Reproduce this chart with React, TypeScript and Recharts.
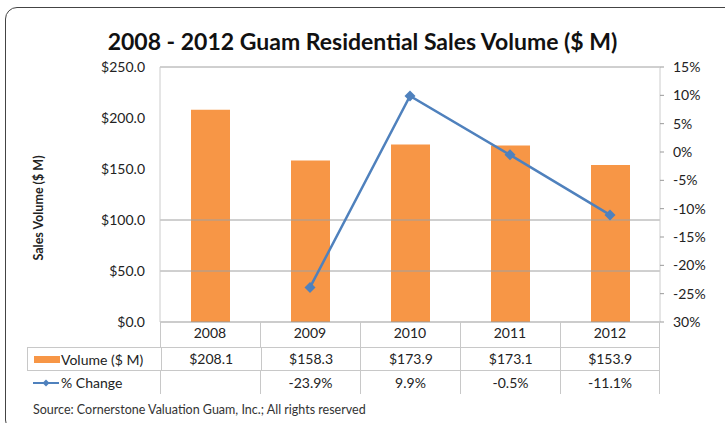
import { Bar, ComposedChart, Line, ReferenceLine, XAxis, YAxis } from 'recharts'

const YEARS = ['2008', '2009', '2010', '2011', '2012']
const VOLUME = [208.1, 158.3, 173.9, 173.1, 153.9]
const CHANGE: (number | null)[] = [null, -23.9, 9.9, -0.5, -11.1]
const VOLUME_LABELS = ['$208.1', '$158.3', '$173.9', '$173.1', '$153.9']
const CHANGE_LABELS = ['', '-23.9%', '9.9%', '-0.5%', '-11.1%']
const LEFT_TICKS = [0, 50, 100, 150, 200, 250]
const RIGHT_TICKS = [15, 10, 5, 0, -5, -10, -15, -20, -25, -30]
const RIGHT_TICK_LABELS = ['15%', '10%', '5%', '0%', '-5%', '-10%', '-15%', '-20%', '-25%', '30%']
const GRID_VALUES = [50, 100, 250]

const ORANGE = '#F79646'
const BLUE = '#4F81BD'
const FONT = 'Lato, "Open Sans", sans-serif'

const chartData = YEARS.map((year, i) => ({
  year,
  volume: VOLUME[i],
  change: CHANGE[i],
}))

function Diamond(props: any) {
  const { cx, cy, index } = props
  if (cx == null || cy == null || CHANGE[index] == null) return <g key={index} />
  const r = 5.5
  return (
    <polygon
      key={index}
      points={`${cx},${cy - r} ${cx + r},${cy} ${cx},${cy + r} ${cx - r},${cy}`}
      fill={BLUE}
    />
  )
}

const cellBorder = '1px solid #c8c8c8'

export default function App() {
  return (
    <div style={{ position: 'absolute', left: 0, top: 0, width: 725, height: 423, overflow: 'hidden', background: '#fff', fontFamily: FONT }}>
      <div
        style={{
          position: 'absolute',
          left: 5,
          top: 7,
          width: 740,
          height: 425,
          border: '1.5px solid #444',
          borderRadius: 12,
          boxSizing: 'border-box',
        }}
      />
      <div
        style={{
          position: 'absolute',
          left: 0,
          top: 27,
          width: 725,
          textAlign: 'center',
          fontSize: 23,
          fontWeight: 700,
          color: '#111',
        }}
      >
        2008 - 2012 Guam Residential Sales Volume ($ M)
      </div>

      <div
        style={{
          position: 'absolute',
          left: 38,
          top: 208,
          transform: 'translate(-50%, -50%) rotate(-90deg)',
          fontSize: 12.5,
          fontWeight: 700,
          color: '#222',
          whiteSpace: 'nowrap',
        }}
      >
        Sales Volume ($ M)
      </div>

      <div style={{ position: 'absolute', left: 0, top: 0 }}>
        <ComposedChart
          width={725}
          height={423}
          data={chartData}
          margin={{ top: 67, right: 0, bottom: 76, left: 0 }}
        >
          <XAxis
            dataKey="year"
            xAxisId="x"
            height={25}
            tickLine={false}
            tickSize={0}
            tickMargin={6}
            axisLine={{ stroke: '#999' }}
            tick={{ fill: '#222', fontSize: 14, fontFamily: FONT }}
          />
          <YAxis
            yAxisId="left"
            width={160}
            domain={[0, 250]}
            ticks={LEFT_TICKS}
            tickLine={false}
            tickSize={0}
            tickMargin={15}
            axisLine={{ stroke: '#ccc' }}
            tick={{ fill: '#222', fontSize: 14, fontFamily: FONT }}
            tickFormatter={(v: number) => `$${v.toFixed(1)}`}
          />
          <YAxis
            yAxisId="right"
            orientation="right"
            width={65}
            domain={[-30, 15]}
            ticks={RIGHT_TICKS}
            tickSize={4}
            tickMargin={9}
            tickLine={{ stroke: '#999' }}
            axisLine={{ stroke: '#ccc' }}
            tick={{ fill: '#222', fontSize: 14, fontFamily: FONT }}
            tickFormatter={(v: number) => RIGHT_TICK_LABELS[RIGHT_TICKS.indexOf(v)]}
          />
          {GRID_VALUES.map((v) => (
            <ReferenceLine key={v} y={v} yAxisId="left" xAxisId="x" stroke="#a0a0a0" strokeWidth={1} />
          ))}
          <Bar dataKey="volume" xAxisId="x" yAxisId="left" fill={ORANGE} barSize={39} isAnimationActive={false} />
          <Line
            dataKey="change"
            xAxisId="x"
            yAxisId="right"
            stroke={BLUE}
            strokeWidth={2.5}
            dot={Diamond}
            activeDot={false}
            isAnimationActive={false}
          />
        </ComposedChart>
      </div>

      {/* data table below the category axis */}
      <div style={{ position: 'absolute', left: 160, top: 322, width: 500, height: 25, display: 'flex' }}>
        {YEARS.map((y) => (
          <div key={y} style={{ width: 100, borderLeft: cellBorder, boxSizing: 'border-box', height: 25, borderRight: y === '2012' ? cellBorder : undefined }} />
        ))}
      </div>
      <div style={{ position: 'absolute', left: 27, top: 347, width: 633, fontSize: 14, color: '#222' }}>
        <div style={{ display: 'flex', height: 22, borderTop: cellBorder, borderLeft: cellBorder }}>
          <div style={{ width: 133, display: 'flex', alignItems: 'center', boxSizing: 'border-box' }}>
            <span style={{ display: 'inline-block', width: 26, height: 7, background: ORANGE, marginLeft: 6, marginRight: 1 }} />
            Volume ($ M)
          </div>
          {VOLUME_LABELS.map((t, i) => (
            <div key={i} style={{ width: 100, borderLeft: cellBorder, borderRight: i === 4 ? cellBorder : undefined, boxSizing: 'border-box', textAlign: 'center', lineHeight: '22px' }}>
              {t}
            </div>
          ))}
        </div>
        <div style={{ display: 'flex', height: 23, borderTop: cellBorder }}>
          <div style={{ width: 133, display: 'flex', alignItems: 'center', boxSizing: 'border-box' }}>
            <svg width={27} height={12} style={{ marginLeft: 6, marginRight: 1 }}>
              <line x1={0} y1={6} x2={26} y2={6} stroke={BLUE} strokeWidth={2} />
              <polygon points="13,2.5 16.5,6 13,9.5 9.5,6" fill={BLUE} />
            </svg>
            % Change
          </div>
          {CHANGE_LABELS.map((t, i) => (
            <div key={i} style={{ width: 100, borderLeft: cellBorder, borderRight: i === 4 ? cellBorder : undefined, boxSizing: 'border-box', textAlign: 'center', lineHeight: '23px' }}>
              {t}
            </div>
          ))}
        </div>
      </div>

      <div style={{ position: 'absolute', left: 33, top: 402, fontSize: 12.5, color: '#333' }}>
        Source: Cornerstone Valuation Guam, Inc.; All rights reserved
      </div>
    </div>
  )
}
